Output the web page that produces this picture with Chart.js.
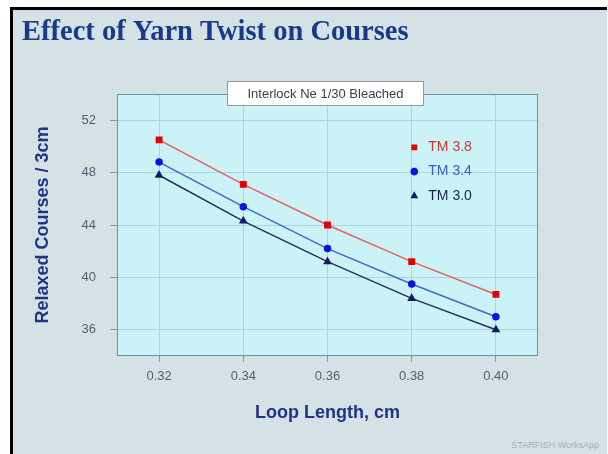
<!DOCTYPE html>
<html lang="en">

<head>
  <meta charset="UTF-8">
  <title>Effect of Yarn Twist on Courses</title>
  <script src="https://cdn.jsdelivr.net/npm/chart.js"></script>
  <style>
    html, body { margin: 0; padding: 0; background: #fff; }
    .page { position: relative; width: 608px; height: 454px; overflow: hidden; }
    .slide {
      position: absolute; left: 10px; top: 7px; width: 594px; height: 460px;
      border-left: 3px solid #000; border-top: 3px solid #000;
      background: #d4e2e5;
    }
    .credit {
      position: absolute; right: 9px; top: 440px;
      font: 9px "Liberation Sans", Arial, sans-serif; color: #9fb0b6;
    }
    canvas { position: absolute; left: 0; top: 0; }
  </style>
</head>

<body>
  <div class="page">
    <div class="slide"></div>
    <div class="credit">STARFISH WorksApp</div>
    <canvas id="chart" width="608" height="454"></canvas>
  </div>

  <script>
    // data
    const loopLength = [0.32, 0.34, 0.36, 0.38, 0.40];
    const tm38 = [50.5, 47.1, 44.0, 41.2, 38.7];
    const tm34 = [48.8, 45.4, 42.2, 39.5, 37.0];
    const tm30 = [47.8, 44.3, 41.2, 38.4, 36.0];
    const xTicks = [0.32, 0.34, 0.36, 0.38, 0.40];
    const yTicks = [36, 40, 44, 48, 52];
    const seriesNames = ['TM 3.8', 'TM 3.4', 'TM 3.0'];

    function pts(values) {
      return values.map((v, i) => ({ x: loopLength[i], y: v }));
    }

    const sans = '"Liberation Sans", Arial, sans-serif';

    // plot background, frame and the little caption box on top of it
    const plotFrame = {
      id: 'plotFrame',
      beforeDraw(chart) {
        const { ctx, chartArea: a } = chart;
        ctx.save();
        ctx.fillStyle = '#cbf3f7';
        ctx.fillRect(a.left, a.top, a.width, a.height);
        ctx.restore();
      },
      beforeDatasetsDraw(chart) {
        const { ctx, chartArea: a } = chart;
        ctx.save();
        ctx.strokeStyle = '#6d8db3';
        ctx.lineWidth = 1;
        ctx.strokeRect(a.left + 0.5, a.top + 0.5, a.width - 1, a.height - 1);
        ctx.restore();
      },
      afterDraw(chart) {
        const { ctx, chartArea: a } = chart;
        const cx = (a.left + a.right) / 2 - 2;
        const w = 197, h = 25;
        ctx.save();
        ctx.fillStyle = '#ffffff';
        ctx.fillRect(cx - w / 2, a.top - 13, w, h);
        ctx.strokeStyle = '#9a9a9a';
        ctx.lineWidth = 1;
        ctx.strokeRect(cx - w / 2 + 0.5, a.top - 13 + 0.5, w - 1, h - 1);
        ctx.fillStyle = '#3c3c4c';
        ctx.font = '13px ' + sans;
        ctx.textAlign = 'center';
        ctx.textBaseline = 'middle';
        ctx.fillText('Interlock Ne 1/30 Bleached', cx, a.top);
        ctx.restore();
      }
    };

    // put the legend inside the plot, right of centre
    const legendSpot = {
      id: 'legendSpot',
      afterLayout(chart) {
        const lg = chart.legend;
        const w = lg.width, h = lg.height;
        lg.left = 397;
        lg.top = 130;
        lg.right = lg.left + w;
        lg.bottom = lg.top + h;
      }
    };

    const ctx = document.getElementById('chart').getContext('2d');
    new Chart(ctx, {
      type: 'line',
      data: {
        datasets: [
          {
            label: seriesNames[0],
            data: pts(tm38),
            borderColor: '#e66060',
            borderWidth: 1.5,
            pointStyle: 'rect',
            pointRadius: 3.8,
            pointBackgroundColor: '#e40000',
            pointBorderColor: '#e40000',
            tension: 0
          },
          {
            label: seriesNames[1],
            data: pts(tm34),
            borderColor: '#3f6cc2',
            borderWidth: 1.5,
            pointStyle: 'circle',
            pointRadius: 3,
            pointBackgroundColor: '#0a14e6',
            pointBorderColor: '#0a14e6',
            tension: 0
          },
          {
            label: seriesNames[2],
            data: pts(tm30),
            borderColor: '#233352',
            borderWidth: 1.5,
            pointStyle: 'triangle',
            pointRadius: 3.6,
            pointBackgroundColor: '#141a6a',
            pointBorderColor: '#141a6a',
            tension: 0
          }
        ]
      },
      options: {
        responsive: false,
        animation: false,
        layout: { padding: { left: 22, right: 70, top: 0, bottom: 0 } },
        plugins: {
          title: {
            display: true,
            text: 'Effect of Yarn Twist on Courses',
            align: 'start',
            color: '#183a8a',
            font: { family: '"Liberation Serif", "Times New Roman", serif', size: 28.5, weight: 'bold' },
            padding: { top: 16, bottom: 43.8 }
          },
          legend: {
            position: 'chartArea',
            align: 'start',
            labels: {
              usePointStyle: true,
              boxWidth: 14,
              boxHeight: 4.3,
              padding: 10.3,
              font: { family: sans, size: 14 },
              generateLabels(chart) {
                const items = Chart.defaults.plugins.legend.labels.generateLabels(chart);
                const colors = ['#d23434', '#3a5ccc', '#18224e'];
                items.forEach((it, i) => { it.fontColor = colors[i]; });
                return items;
              }
            }
          },
          tooltip: { enabled: false }
        },
        scales: {
          x: {
            type: 'linear',
            min: 0.31,
            max: 0.41,
            afterBuildTicks(axis) { axis.ticks = xTicks.map(v => ({ value: v })); },
            afterFit(axis) { axis.height = 98; },
            ticks: {
              padding: 7,
              color: '#4f5f72',
              font: { family: sans, size: 13 },
              callback: v => v.toFixed(2)
            },
            grid: { color: '#a9d6de', tickColor: '#8a9aac', tickLength: 6 },
            border: { display: false },
            title: {
              display: true,
              text: 'Loop Length, cm',
              color: '#1e3486',
              font: { family: sans, size: 18, weight: 'bold' },
              padding: { top: 0, bottom: 30 }
            }
          },
          y: {
            min: 34,
            max: 54,
            afterBuildTicks(axis) { axis.ticks = yTicks.map(v => ({ value: v })); },
            afterFit(axis) { axis.width = 95; },
            ticks: {
              padding: 14,
              color: '#4f5f72',
              font: { family: sans, size: 13 }
            },
            grid: { color: '#a9d6de', tickColor: '#8a9aac', tickLength: 7 },
            border: { display: false },
            title: {
              display: true,
              text: 'Relaxed Courses / 3cm',
              color: '#1e3486',
              font: { family: sans, size: 18, weight: 'bold' },
              padding: { top: 10, bottom: 0 }
            }
          }
        }
      },
      plugins: [plotFrame, legendSpot]
    });
  </script>
</body>

</html>
